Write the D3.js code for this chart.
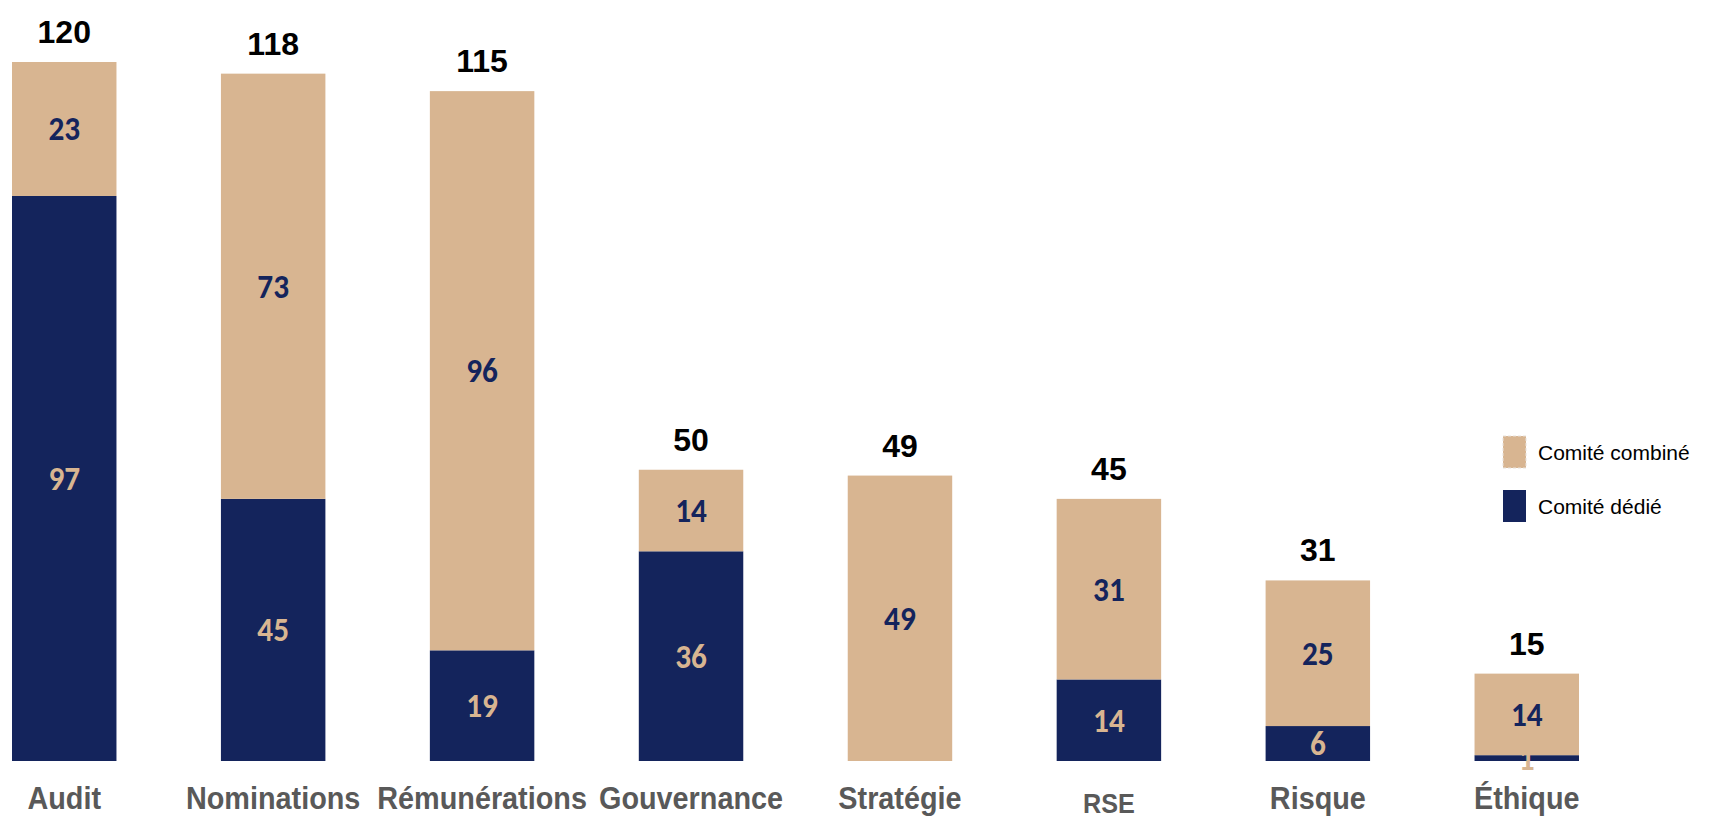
<!DOCTYPE html>
<html>
<head>
<meta charset="utf-8">
<script src="https://cdn.jsdelivr.net/npm/d3@7"></script>
<style>
  body { margin: 0; background: #fff; }
  svg { display: block; }
</style>
</head>
<body>
<div id="chart"></div>
<script>
const categories = ['Audit', 'Nominations', 'Rémunérations', 'Gouvernance', 'Stratégie', 'RSE', 'Risque', 'Éthique']
const dedie = [97, 45, 19, 36, 0, 14, 6, 1]
const combine = [23, 73, 96, 14, 49, 31, 25, 14]
const totals = [120, 118, 115, 50, 49, 45, 31, 15]
const seriesNames = ['Comité combiné', 'Comité dédié']

const width = 1710
const height = 818
const navy = '#14245c'
const beige = '#d8b591'

const svg = d3.select('#chart')
  .append('svg')
  .attr('width', width)
  .attr('height', height)

const rows = categories.map((c, i) => ({ category: c, dedie: dedie[i], combine: combine[i], total: totals[i] }))

const x = d3.scaleBand()
  .domain(categories)
  .range([12, 1579])
  .paddingInner(0.5)
  .paddingOuter(0)

const y = d3.scaleLinear()
  .domain([0, 120])
  .range([761, 62])

// dédié at the bottom, combiné stacked on top
const stacked = d3.stack().keys(['dedie', 'combine'])(rows)
const fills = { dedie: navy, combine: beige }
const textFills = { dedie: beige, combine: navy }

const layers = svg.append('g')
  .selectAll('g')
  .data(stacked)
  .join('g')
  .attr('fill', d => fills[d.key])

layers.selectAll('rect')
  .data(d => d)
  .join('rect')
  .attr('x', d => x(d.data.category))
  .attr('y', d => y(d[1]))
  .attr('width', x.bandwidth())
  .attr('height', d => y(d[0]) - y(d[1]))

// values inside the segments
svg.append('g')
  .selectAll('g')
  .data(stacked)
  .join('g')
  .attr('fill', d => textFills[d.key])
  .selectAll('text')
  .data(d => d.filter(s => s[1] - s[0] > 0))
  .join('text')
  .attr('transform', d => `translate(${x(d.data.category) + x.bandwidth() / 2}, ${(y(d[0]) + y(d[1])) / 2}) scale(0.92, 1)`)
  .attr('text-anchor', 'middle')
  .attr('dominant-baseline', 'central')
  .style('font-family', 'Carlito, Lato, sans-serif')
  .style('font-weight', 'bold')
  .style('font-size', '34px')
  .text(d => d[1] - d[0])

// totals above bars
svg.append('g')
  .selectAll('text')
  .data(rows)
  .join('text')
  .attr('x', d => x(d.category) + x.bandwidth() / 2)
  .attr('y', d => y(d.total) - 19)
  .attr('text-anchor', 'middle')
  .attr('fill', '#000')
  .style('font-family', '"Liberation Sans", Arial, sans-serif')
  .style('font-weight', 'bold')
  .style('font-size', '32px')
  .text(d => d.total)

// category labels (squeezed a bit, the original uses a narrow face)
svg.append('g')
  .selectAll('text')
  .data(categories)
  .join('text')
  .attr('transform', d => `translate(${x(d) + x.bandwidth() / 2}, ${d === 'RSE' ? 813 : 809}) scale(0.9, 1)`)
  .attr('text-anchor', 'middle')
  .attr('fill', '#595959')
  .style('font-family', '"Liberation Sans", Arial, sans-serif')
  .style('font-weight', 'bold')
  .style('font-size', d => d === 'RSE' ? '28px' : '32px')
  .text(d => d)

// legend
const legend = svg.append('g')
  .attr('transform', 'translate(1503, 436)')

const legendItems = legend.selectAll('g')
  .data(seriesNames)
  .join('g')
  .attr('transform', (d, i) => `translate(0, ${i * 54})`)

legendItems.append('rect')
  .attr('width', 23)
  .attr('height', 32)
  .attr('fill', (d, i) => i === 0 ? beige : navy)
  .attr('stroke', (d, i) => i === 0 ? '#e8e2dc' : 'none')
  .attr('stroke-dasharray', '3,2')

legendItems.append('text')
  .attr('x', 35)
  .attr('y', 16)
  .attr('dominant-baseline', 'central')
  .attr('fill', '#000')
  .style('font-family', '"Liberation Sans", Arial, sans-serif')
  .style('font-size', '21px')
  .text(d => d)
</script>
</body>
</html>
